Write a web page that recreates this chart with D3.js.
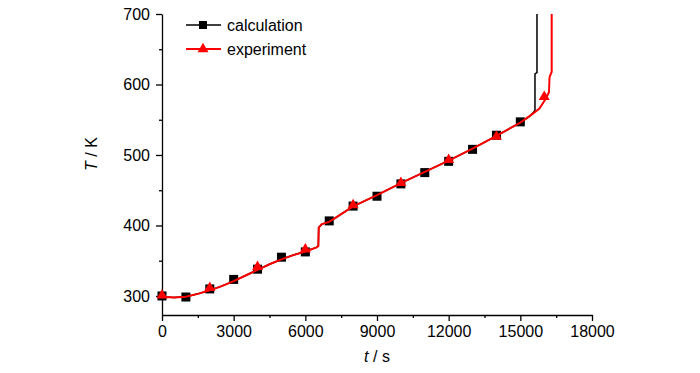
<!DOCTYPE html>
<html>
<head>
<meta charset="utf-8">
<script src="https://cdn.jsdelivr.net/npm/d3@7"></script>
<style>
  body { margin: 0; background: #fff; }
  svg { font-family: "Liberation Sans", Arial, sans-serif; }
</style>
</head>
<body>
<svg id="chart" width="700" height="373"></svg>
<script>
// marker data
const calcTime = [0, 1000, 2000, 3000, 4000, 5000, 6000, 7000, 8000, 9000, 10000, 11000, 12000, 13000, 14000, 15000];
const calcTemp = [300, 298.5, 310, 323.5, 338, 355, 362.5, 406.5, 427.5, 441.5, 459, 475, 491, 508, 528, 547];
const expTime = [0, 2000, 4000, 6000, 8000, 10000, 12000, 14000, 16000];
const expTemp = [301, 311.5, 341.5, 366, 429, 460.5, 493, 526, 582.5];

// continuous curves
const calcLineTime = [0, 500, 1000, 1500, 2000, 2500, 3000, 3500, 4000, 4500, 5000, 5500, 6000, 6470, 6545, 6560, 6690, 7000, 8000, 9000, 10000, 11000, 12000, 13000, 14000, 15000, 15400, 15613, 15613, 15697, 15697];
const calcLineTemp = [299, 298, 299, 303, 308, 314, 321, 329, 337, 345, 352, 358, 363, 369, 371, 397, 402, 405, 427, 443, 460, 476, 492, 509, 527, 546, 555, 563, 615, 617, 760];
const expLineTime = [0, 500, 1000, 1500, 2000, 2500, 3000, 3500, 4000, 4500, 5000, 5500, 6000, 6470, 6545, 6560, 6690, 7000, 8000, 9000, 10000, 11000, 12000, 13000, 14000, 15000, 15500, 15800, 16050, 16200, 16220, 16240, 16313, 16313];
const expLineTemp = [299, 298, 299, 303, 308, 314, 321, 329, 337, 345, 352, 358, 363, 369, 371, 397, 402, 405, 427, 443, 460, 476, 492, 509, 527, 546, 558, 566, 579, 589, 609, 612, 618, 760];

const xTicks = [0, 3000, 6000, 9000, 12000, 15000, 18000];
const xMinor = [1500, 4500, 7500, 10500, 13500, 16500];
const yTicks = [300, 400, 500, 600, 700];
const yMinor = [350, 450, 550, 650];

const legendItems = ["calculation", "experiment"];

function run() {
  const svg = d3.select("#chart");
  const x = d3.scaleLinear().domain([0, 18000]).range([162, 592]);
  const y = d3.scaleLinear().domain([273, 700]).range([315, 14]);

  const toPts = (ts, vs) => ts.map((t, i) => [t, vs[i]]);

  svg.append("clipPath").attr("id", "plot-clip")
    .append("rect").attr("x", 162).attr("y", 14).attr("width", 430).attr("height", 301);

  // axes
  svg.append("g").attr("transform", "translate(0,315)")
    .call(d3.axisBottom(x).tickValues(xTicks).tickSize(6).tickSizeOuter(0).tickPadding(5).tickFormat(d3.format("d")));
  svg.append("g").attr("transform", "translate(0,315)")
    .call(d3.axisBottom(x).tickValues(xMinor).tickSize(3).tickSizeOuter(0).tickFormat(""))
    .select(".domain").remove();
  svg.append("g").attr("transform", "translate(162,0)")
    .call(d3.axisLeft(y).tickValues(yTicks).tickSize(6).tickSizeOuter(0).tickPadding(6));
  svg.append("g").attr("transform", "translate(162,0)")
    .call(d3.axisLeft(y).tickValues(yMinor).tickSize(3).tickSizeOuter(0).tickFormat(""))
    .select(".domain").remove();

  svg.selectAll(".tick line, .domain").attr("stroke", "#000").attr("stroke-width", 1.3);
  svg.selectAll(".tick text").attr("font-size", 16).attr("fill", "#000")
    .attr("font-family", "Liberation Sans, Arial, sans-serif");

  // axis titles
  svg.append("text")
    .attr("transform", "translate(97,154) rotate(-90)")
    .attr("text-anchor", "middle").attr("font-size", 16)
    .html('<tspan font-style="italic">T</tspan> / K');
  svg.append("text")
    .attr("x", 377).attr("y", 362)
    .attr("text-anchor", "middle").attr("font-size", 16)
    .html('<tspan font-style="italic">t</tspan> / s');

  const line = d3.line().x(d => x(d[0])).y(d => y(d[1]));
  const plot = svg.append("g").attr("clip-path", "url(#plot-clip)");
  const marks = svg.append("g");

  plot.append("path").datum(toPts(calcLineTime, calcLineTemp))
    .attr("d", line).attr("fill", "none").attr("stroke", "#000").attr("stroke-width", 1.5);

  marks.selectAll(".sq").data(toPts(calcTime, calcTemp)).enter()
    .append("rect").attr("class", "sq")
    .attr("x", d => x(d[0]) - 4.5).attr("y", d => y(d[1]) - 4.5)
    .attr("width", 9).attr("height", 9).attr("fill", "#000");

  const plot2 = svg.append("g").attr("clip-path", "url(#plot-clip)");
  plot2.append("path").datum(toPts(expLineTime, expLineTemp))
    .attr("d", line).attr("fill", "none").attr("stroke", "#ff0000").attr("stroke-width", 2);

  const tri = d3.symbol().type(d3.symbolTriangle).size(52);
  svg.append("g").selectAll(".tri").data(toPts(expTime, expTemp)).enter()
    .append("path").attr("class", "tri")
    .attr("transform", d => `translate(${x(d[0])},${y(d[1])})`)
    .attr("d", tri).attr("fill", "#ff0000");

  // legend
  const leg = svg.append("g");
  legendItems.forEach((name, i) => {
    const cy = 25 + i * 24;
    const col = i === 0 ? "#000" : "#ff0000";
    leg.append("line").attr("x1", 186).attr("x2", 221).attr("y1", cy).attr("y2", cy)
      .attr("stroke", col).attr("stroke-width", i === 0 ? 1.5 : 2);
    if (i === 0) {
      leg.append("rect").attr("x", 199).attr("y", cy - 4).attr("width", 8).attr("height", 8).attr("fill", col);
    } else {
      leg.append("path").attr("transform", `translate(203,${cy})`).attr("d", tri).attr("fill", col);
    }
    leg.append("text").attr("x", 227).attr("y", cy + 6).attr("font-size", 16).text(name);
  });
}

run();
</script>
</body>
</html>
